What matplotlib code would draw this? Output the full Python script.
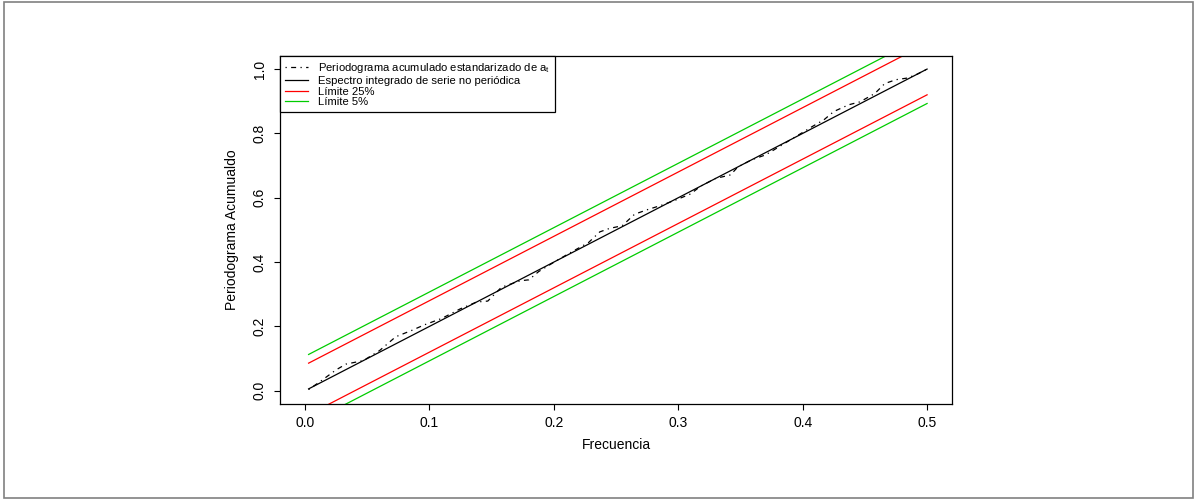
import matplotlib
matplotlib.use('Agg')
import matplotlib.pyplot as plt
from matplotlib.patches import Rectangle

plt.rcParams['font.family'] = ['Liberation Sans', 'DejaVu Sans']

# periodograma acumulado estandarizado
freq = [0.003, 0.012, 0.025, 0.033, 0.047, 0.060, 0.073, 0.086, 0.096, 0.110,
        0.125, 0.138, 0.147, 0.158, 0.173, 0.180, 0.188, 0.202, 0.215, 0.228,
        0.237, 0.245, 0.255, 0.265, 0.276, 0.286, 0.298, 0.310, 0.318, 0.330,
        0.342, 0.348, 0.359, 0.370, 0.377, 0.391, 0.400, 0.408, 0.417, 0.425,
        0.437, 0.446, 0.458, 0.466, 0.475, 0.484, 0.492, 0.500]
cum_per = [0.004, 0.028, 0.065, 0.083, 0.094, 0.125, 0.168, 0.188, 0.205, 0.225,
           0.255, 0.276, 0.279, 0.322, 0.342, 0.345, 0.371, 0.404, 0.433, 0.461,
           0.494, 0.505, 0.513, 0.549, 0.564, 0.576, 0.593, 0.612, 0.636, 0.660,
           0.671, 0.696, 0.718, 0.733, 0.749, 0.782, 0.803, 0.822, 0.842, 0.868,
           0.889, 0.898, 0.924, 0.955, 0.967, 0.972, 0.984, 1.000]

# espectro integrado de ruido blanco y bandas
spec_f = [0.003, 0.5]
spec_y = [0.006, 1.0]
c25 = 0.080
c5 = 0.107

xticks = [0.0, 0.1, 0.2, 0.3, 0.4, 0.5]
yticks = [0.0, 0.2, 0.4, 0.6, 0.8, 1.0]

fig = plt.figure(figsize=(11.97, 5.0), dpi=100)
fig.patches.append(Rectangle((0.003, 0.005), 0.994, 0.992, transform=fig.transFigure,
                             fill=False, edgecolor='#808080', linewidth=1.2))
ax = fig.add_axes([0.2339, 0.1926, 0.5614, 0.695])

ax.plot(freq, cum_per, color='black', linewidth=0.9, dashes=(1, 3.5, 4, 3.5),
        label='Periodograma acumulado estandarizado de $\\mathregular{a_t}$')
ax.plot(spec_f, spec_y, color='black', linewidth=0.9,
        label='Espectro integrado de serie no periódica')
ax.plot(spec_f, [v + c25 for v in spec_y], color='#FF0000', linewidth=0.9, label='Límite 25%')
ax.plot(spec_f, [v - c25 for v in spec_y], color='#FF0000', linewidth=0.9)
ax.plot(spec_f, [v + c5 for v in spec_y], color='#00CC00', linewidth=0.9, label='Límite 5%')
ax.plot(spec_f, [v - c5 for v in spec_y], color='#00CC00', linewidth=0.9)

ax.set_xlim(-0.02, 0.52)
ax.set_ylim(-0.04, 1.04)
ax.set_xticks(xticks)
ax.set_xticklabels(['%.1f' % v for v in xticks], fontsize=10)
ax.set_yticks(yticks)
ax.set_yticklabels(['%.1f' % v for v in yticks], fontsize=10, rotation=90, va='center')
ax.tick_params(axis='x', length=4.5, width=0.8, pad=4)
ax.tick_params(axis='y', length=4.5, width=0.8, pad=5)
for s in ax.spines.values():
    s.set_linewidth(0.9)

ax.set_xlabel('Frecuencia', fontsize=10, labelpad=6)
ax.set_ylabel('Periodograma Acumualdo', fontsize=10, labelpad=10)

leg = ax.legend(loc='upper left', fontsize=8.1, frameon=True, fancybox=False,
                edgecolor='black', framealpha=1, borderaxespad=0, borderpad=0.42,
                handlelength=2.1, handletextpad=0.85, labelspacing=0.07)
leg.get_frame().set_linewidth(0.9)

fig.savefig('out.png', dpi=100)
